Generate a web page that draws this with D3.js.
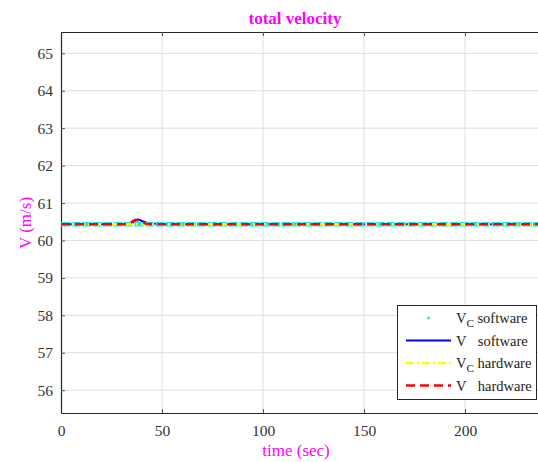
<!DOCTYPE html>
<html>
<head>
<meta charset="utf-8">
<script src="https://cdn.jsdelivr.net/npm/d3@7"></script>
<style>
  body { margin: 0; background: #fff; }
  svg { display: block; font-family: "Liberation Serif", "DejaVu Serif", serif; }
</style>
</head>
<body>
<svg id="chart"></svg>
<script>
const width = 538;
const height = 462;

// time samples (sec)
const time = [0, 30, 33, 35, 36, 37, 38, 39, 40, 42, 44, 46, 48, 50, 100, 150, 200, 240];
// commanded velocity (software & hardware)
const vcSoftware = [60.43, 60.43, 60.43, 60.43, 60.43, 60.43, 60.43, 60.43, 60.43, 60.43, 60.43, 60.43, 60.43, 60.43, 60.43, 60.43, 60.43, 60.43];
const vcHardware = [60.43, 60.43, 60.43, 60.43, 60.43, 60.43, 60.43, 60.43, 60.43, 60.43, 60.43, 60.43, 60.43, 60.43, 60.43, 60.43, 60.43, 60.43];
// actual velocity
const vSoftware = [60.43, 60.43, 60.43, 60.45, 60.5, 60.54, 60.56, 60.55, 60.52, 60.48, 60.46, 60.45, 60.44, 60.43, 60.43, 60.43, 60.43, 60.43];
const vHardware = [60.43, 60.43, 60.44, 60.49, 60.53, 60.55, 60.54, 60.51, 60.48, 60.45, 60.44, 60.43, 60.43, 60.43, 60.43, 60.43, 60.43, 60.43];

const xTicks = [0, 50, 100, 150, 200];
const yTicks = [56, 57, 58, 59, 60, 61, 62, 63, 64, 65];

const margin = { top: 32, left: 61, bottom: 49 };
const plotRight = 545;

const svg = d3.select("#chart").attr("width", width).attr("height", height);

const x = d3.scaleLinear().domain([0, 239.6]).range([margin.left, plotRight]);
const y = d3.scaleLinear().domain([55.39, 65.57]).range([height - margin.bottom, margin.top]);

const x0 = margin.left, y0 = height - margin.bottom, y1 = margin.top;

// grid
svg.append("g").selectAll("line").data(xTicks.slice(1)).enter().append("line")
  .attr("x1", d => x(d)).attr("x2", d => x(d)).attr("y1", y1).attr("y2", y0)
  .attr("stroke", "#dedede").attr("stroke-width", 1);
svg.append("g").selectAll("line").data(yTicks).enter().append("line")
  .attr("x1", x0).attr("x2", plotRight).attr("y1", d => y(d)).attr("y2", d => y(d))
  .attr("stroke", "#dedede").attr("stroke-width", 1);

// axes
const xAxis = d3.axisBottom(x).tickValues(xTicks).tickSizeInner(-4).tickSizeOuter(0).tickPadding(12);
const xAxisTop = d3.axisTop(x).tickValues(xTicks).tickSizeInner(-4).tickSizeOuter(0).tickFormat("");
const yAxis = d3.axisLeft(y).tickValues(yTicks).tickSizeInner(-4).tickSizeOuter(0).tickPadding(8);

function styleAxis(g) {
  g.select(".domain").attr("stroke", "#262626").attr("stroke-width", 1.2);
  g.selectAll(".tick line").attr("stroke", "#555");
  g.selectAll(".tick text").attr("fill", "#333").attr("font-size", 15.5)
    .attr("font-family", "Liberation Serif, serif");
}

svg.append("g").attr("transform", `translate(0,${y0})`).call(xAxis).call(styleAxis);
svg.append("g").attr("transform", `translate(0,${y1})`).call(xAxisTop).call(styleAxis);
svg.append("g").attr("transform", `translate(${x0},0)`).call(yAxis).call(styleAxis);

// series
const line = d3.line().x((d, i) => x(time[i])).y(d => y(d));

const plot = svg.append("g");
plot.append("path").datum(vSoftware).attr("d", line)
  .attr("fill", "none").attr("stroke", "#0000ff").attr("stroke-width", 2);
plot.append("path").datum(vcSoftware).attr("d", line)
  .attr("fill", "none").attr("stroke", "#1ee3f0").attr("stroke-width", 4.5)
  .attr("stroke-dasharray", "9,1.5");
plot.append("path").datum(vcHardware).attr("d", line)
  .attr("fill", "none").attr("stroke", "#ffff00").attr("stroke-width", 2.5)
  .attr("stroke-dasharray", "8,3,2,3");
plot.append("path").datum(vHardware).attr("d", line)
  .attr("fill", "none").attr("stroke", "#ff0000").attr("stroke-width", 2.5)
  .attr("stroke-dasharray", "9,5");

// title and labels
svg.append("text").attr("x", 295).attr("y", 24).attr("text-anchor", "middle")
  .attr("fill", "#ff00ff").attr("font-weight", "bold").attr("font-size", 17)
  .text("total velocity");
svg.append("text").attr("x", 296).attr("y", 456).attr("text-anchor", "middle")
  .attr("fill", "#ff00ff").attr("font-size", 17).text("time (sec)");
svg.append("text").attr("transform", "translate(31,223) rotate(-90)")
  .attr("text-anchor", "middle").attr("fill", "#ff00ff").attr("font-size", 17)
  .text("V (m/s)");

// legend
const legendItems = [
  { sub: "C", label: "software", color: "#1ee3f0", type: "dot" },
  { sub: "", label: "software", color: "#0000ff", dash: null, w: 2 },
  { sub: "C", label: "hardware", color: "#ffff00", dash: "8,3,2,3", w: 2.5 },
  { sub: "", label: "hardware", color: "#ff0000", dash: "9,5", w: 2.5 }
];

const legend = svg.append("g");
legend.append("rect").attr("x", 397.5).attr("y", 305.5).attr("width", 139).attr("height", 94)
  .attr("fill", "#fff").attr("stroke", "#262626").attr("stroke-width", 1);

legendItems.forEach((d, i) => {
  const ly = 318 + i * 22.5;
  if (d.type === "dot") {
    legend.append("circle").attr("cx", 428.5).attr("cy", ly).attr("r", 1.5).attr("fill", d.color);
  } else {
    legend.append("line").attr("x1", 406).attr("x2", 451).attr("y1", ly).attr("y2", ly)
      .attr("stroke", d.color).attr("stroke-width", d.w)
      .attr("stroke-dasharray", d.dash);
  }
  const t = legend.append("text").attr("x", 456).attr("y", ly + 5)
    .attr("fill", "#222").attr("font-size", 14.5);
  t.append("tspan").text("V");
  if (d.sub) {
    t.append("tspan").attr("font-size", 11).attr("dy", 4).text("C");
    t.append("tspan").attr("dy", -4).text(" " + d.label);
  } else {
    t.append("tspan").attr("dx", 8).text(" " + d.label);
  }
});
</script>
</body>
</html>
